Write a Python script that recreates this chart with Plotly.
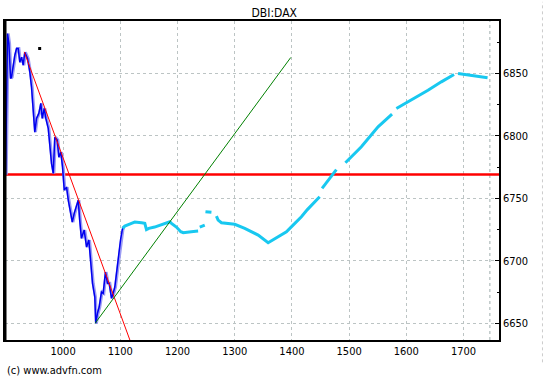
import plotly.graph_objects as go

# ---- data ----
blue_x = [899.4, 902.8, 905.2, 908.1, 909.8, 912.8, 915.6, 918.6, 921.5, 924.3, 927.3, 930.2,
          933.0, 937.8, 941.8, 944.8, 947.7, 950.5, 953.5, 957.5, 961.0, 963.5, 967.0, 969.8,
          974.0, 976.8, 979.7, 982.7, 985.5, 989.7, 992.5, 996.0, 999.0, 1002.0, 1006.0, 1009.0,
          1013.0, 1016.0, 1019.4, 1023.4, 1026.4, 1029.0, 1032.0, 1036.8, 1041.0, 1045.0,
          1048.4, 1051.4, 1055.4, 1057.0, 1060.0, 1063.0, 1067.0, 1070.0, 1074.0, 1077.6,
          1080.5, 1084.6, 1087.5, 1090.4, 1094.0, 1097.0, 1100.3, 1103.3, 1105.0]
blue_y = [6769, 6882, 6874, 6846, 6847, 6856.6, 6864.6, 6870, 6870, 6859, 6863, 6856.6,
          6867, 6862, 6851, 6839, 6820.6, 6803, 6814, 6818, 6826, 6814, 6822, 6814,
          6806, 6791, 6778, 6770, 6799, 6796.6, 6783, 6787, 6775, 6756.6, 6759, 6748.6,
          6739, 6731, 6738, 6744.6, 6748.6, 6732.6, 6718, 6724.6, 6711, 6716.6,
          6695.3, 6682, 6671, 6650, 6658, 6663, 6675, 6674, 6691, 6682,
          6682, 6670, 6674, 6679, 6692.6, 6704.6, 6716.6, 6724.6, 6727]

cyan_x = [1103.8, 1107.8, 1119.5, 1125.3, 1137.0, 1142.8, 1145.7, 1149.8, 1160.0, 1169.0,
          1177.7, 1182.4, 1186.5, 1189.4, 1198.0, 1205.7, 1210.0, 1224.0, 1236.0, None,
          1238.9, 1247.6, None, 1248.8, 1259.3, None, 1268.0, 1271.0, 1276.8, 1285.5,
          1300.0, 1317.5, 1341.0, 1358.4, 1375.9, 1390.4, 1402.0, 1416.6, 1427.0, 1448.5, None,
          1452.7, 1477.7, None, 1493.5, 1521.4, 1550.6, 1575.0, None,
          1582.6, 1608.8, 1637.9, 1661.2, 1683.4, None, 1690.4, 1713.6, 1731.0, 1742.0]
cyan_y = [6726, 6727.8, 6730, 6731, 6730.5, 6730, 6725, 6726, 6727, 6728.6,
          6730, 6730.8, 6731.3, 6730, 6727, 6723.3, 6722.5, 6723.3, 6723.8, None,
          6727, 6728.6, None, 6739.3, 6738.8, None, 6735.8, 6732.6, 6730.5, 6730,
          6729.2, 6726, 6720.6, 6714.5, 6719.3, 6723.3, 6728.6, 6735.3, 6741, 6751.3, None,
          6758, 6773, None, 6778.5, 6791.3, 6807.3, 6817.4, None,
          6822, 6828.6, 6836.6, 6843.3, 6849.2, None, 6850, 6848.6, 6847.3, 6846.6]

red_trend_x = [932, 1122]
red_trend_y = [6867.3, 6630]
green_trend_x = [1056, 1398]
green_trend_y = [6650, 6862.8]
ref_level = 6769.2
marker_x = [959]
marker_y = [6870]

x_ticks = [1000, 1100, 1200, 1300, 1400, 1500, 1600, 1700]
y_ticks = [6650, 6700, 6750, 6800, 6850]
x_range = [898.4, 1762]
y_range = [6636.6, 6892]
last_time = 1746

FONT = "Liberation Sans Narrow, Arial Narrow, DejaVu Sans Condensed, Liberation Sans, sans-serif"

fig = go.Figure()

# extra vertical line (current time)
fig.add_shape(type="line", xref="x", yref="paper", x0=last_time, x1=last_time, y0=0, y1=1,
              line=dict(color="#b0bcbc", width=1.2, dash="dot"), layer="below")

# horizontal reference line
fig.add_trace(go.Scatter(x=x_range, y=[ref_level, ref_level], mode="lines",
                         line=dict(color="#ff0000", width=2.5), hoverinfo="skip"))
# blue series (shadow + main)
fig.add_trace(go.Scatter(x=[v + 1.2 for v in blue_x], y=blue_y, mode="lines",
                         line=dict(color="#9c9cf4", width=3), hoverinfo="skip"))
fig.add_trace(go.Scatter(x=blue_x, y=blue_y, mode="lines",
                         line=dict(color="#0000ee", width=1.5)))
# cyan series
fig.add_trace(go.Scatter(x=cyan_x, y=cyan_y, mode="lines", connectgaps=False,
                         line=dict(color="#18c8f0", width=3)))
# trend lines
fig.add_trace(go.Scatter(x=red_trend_x, y=red_trend_y, mode="lines",
                         line=dict(color="#ff0000", width=1)))
fig.add_trace(go.Scatter(x=green_trend_x, y=green_trend_y, mode="lines",
                         line=dict(color="#008000", width=1)))
fig.add_trace(go.Scatter(x=marker_x, y=marker_y, mode="markers",
                         marker=dict(color="black", size=3, symbol="square")))

# thick left border
fig.add_shape(type="line", xref="paper", yref="paper", x0=0, x1=0, y0=0, y1=1,
              line=dict(color="black", width=3))
# faint artifact line at far right
fig.add_shape(type="line", xref="paper", yref="paper", x0=1.088, x1=1.088, y0=-0.07, y1=1.06,
              line=dict(color="#cccccc", width=1, dash="dot"))

fig.update_layout(
    width=545, height=384,
    margin=dict(l=3, r=46, t=21, b=44),
    paper_bgcolor="white", plot_bgcolor="white",
    showlegend=False,
    font=dict(family=FONT, size=11, color="black"),
    title=dict(text="DBI:DAX", x=0.545, xref="paper", y=0.967, yref="container",
               xanchor="center", yanchor="middle",
               font=dict(family=FONT, size=12, color="black")),
    annotations=[dict(text="(c) www.advfn.com", xref="paper", yref="paper",
                      x=0.0, y=-0.097, xanchor="left", yanchor="middle", showarrow=False,
                      font=dict(family=FONT, size=11, color="black"))],
)

fig.update_xaxes(range=x_range, tickvals=x_ticks, ticktext=[str(v) for v in x_ticks],
                 showgrid=True, gridcolor="#bcc4c4", griddash="dot", gridwidth=1.3,
                 showline=True, linecolor="black", linewidth=1.5, mirror=True,
                 ticks="", zeroline=False, tickfont=dict(size=11))
fig.update_yaxes(range=y_range, tickvals=y_ticks, ticktext=[str(v) for v in y_ticks],
                 side="right",
                 showgrid=True, gridcolor="#bcc4c4", griddash="dot", gridwidth=1.3,
                 showline=True, linecolor="black", linewidth=1.5, mirror=True,
                 ticks="inside", ticklen=4, tickcolor="black",
                 minor=dict(dtick=25, tick0=6625, ticks="inside", ticklen=2, tickcolor="black"),
                 zeroline=False, tickfont=dict(size=11))

fig.write_html("out.html", config={"displayModeBar": False},
               post_script="document.body.style.margin='0';document.body.style.padding='0';")
